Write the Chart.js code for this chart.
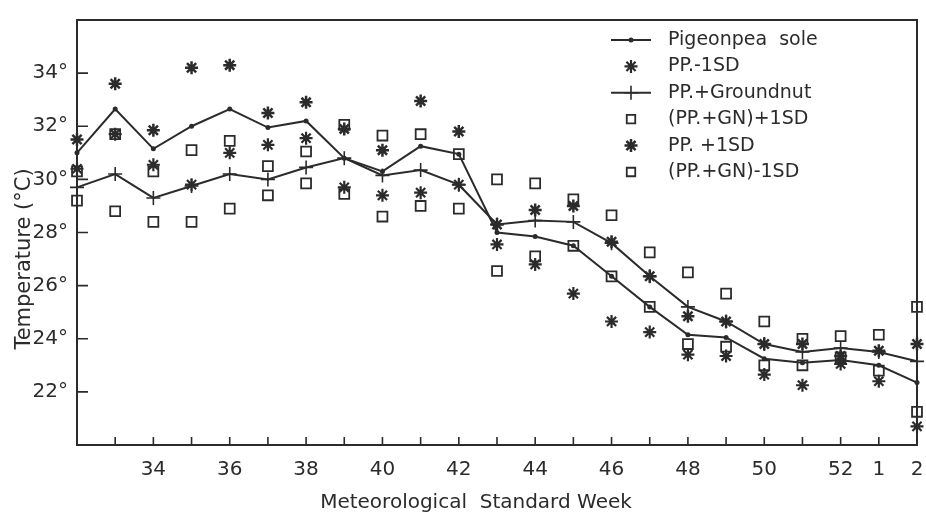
<!DOCTYPE html>
<html>
<head>
<meta charset="utf-8">
<script src="https://cdn.jsdelivr.net/npm/chart.js@4.4.1/dist/chart.umd.min.js"></script>
<style>
  html, body { margin: 0; padding: 0; background: #fff; }
  #wrap { width: 926px; height: 516px; }
</style>
</head>
<body>
<div id="wrap"><canvas id="tempChart" width="926" height="516"></canvas></div>
<script>
// meteorological standard weeks (32 .. 52, then 1, 2)
const weeks = ['32','33','34','35','36','37','38','39','40','41','42','43','44','45','46','47','48','49','50','51','52','1','2'];

// temperature, deg C
const ppSole  = [31.0, 32.65, 31.15, 32.0, 32.65, 31.95, 32.2, 30.8, 30.3, 31.25, 30.95, 28.0, 27.85, 27.5, 26.35, 25.2, 24.15, 24.05, 23.25, 23.1, 23.2, 23.0, 22.35];
const ppPlus  = [31.5, 33.6, 31.85, 34.2, 34.3, 32.5, 32.9, 31.9, 31.1, 32.95, 31.8, 28.3, 28.85, 29.0, 27.65, 26.35, 24.85, 24.65, 23.8, 23.8, 23.35, 23.55, 23.8];
const ppMinus = [30.4, 31.7, 30.55, 29.8, 31.0, 31.3, 31.55, 29.7, 29.4, 29.5, 29.8, 27.55, 26.8, 25.7, 24.65, 24.25, 23.4, 23.35, 22.65, 22.25, 23.05, 22.4, 20.7];
const ppGn    = [29.7, 30.2, 29.3, 29.75, 30.2, 30.0, 30.45, 30.8, 30.15, 30.35, 29.8, 28.3, 28.45, 28.4, 27.6, 26.35, 25.2, 24.65, 23.8, 23.5, 23.65, 23.5, 23.15];
const gnPlus  = [30.3, 31.7, 30.3, 31.1, 31.45, 30.5, 31.05, 32.05, 31.65, 31.7, 30.95, 30.0, 29.85, 29.25, 28.65, 27.25, 26.5, 25.7, 24.65, 24.0, 24.1, 24.15, 25.2];
const gnMinus = [29.2, 28.8, 28.4, 28.4, 28.9, 29.4, 29.85, 29.45, 28.6, 29.0, 28.9, 26.55, 27.1, 27.5, 26.35, 25.2, 23.8, 23.7, 23.0, 23.0, 23.3, 22.8, 21.25];

const yTicks = [22, 24, 26, 28, 30, 32, 34];

const ink = '#2b2b2b';
const fontFam = "'DejaVu Sans', sans-serif";

// top/right frame + inward tick marks
const frame = {
  id: 'frame',
  afterDraw(chart) {
    const {ctx, chartArea: a, scales} = chart;
    ctx.save();
    ctx.strokeStyle = ink;
    ctx.lineWidth = 2;
    ctx.beginPath();
    ctx.moveTo(a.left, a.top);
    ctx.lineTo(a.right, a.top);
    ctx.lineTo(a.right, a.bottom);
    ctx.stroke();
    ctx.lineWidth = 1.6;
    ctx.beginPath();
    yTicks.forEach(v => {
      const y = scales.y.getPixelForValue(v);
      ctx.moveTo(a.left, y);
      ctx.lineTo(a.left + 11, y);
    });
    weeks.forEach((w, i) => {
      if (i === 0) return;
      const x = scales.x.getPixelForValue(i);
      ctx.moveTo(x, a.bottom);
      ctx.lineTo(x, a.bottom - 8);
    });
    ctx.stroke();
    ctx.restore();
  }
};

// legend drawn inside the plot, top right
const boxLegend = {
  id: 'boxLegend',
  afterDraw(chart) {
    const {ctx, chartArea: a} = chart;
    const x0 = a.right - 306, xt = a.right - 249;
    ctx.save();
    ctx.font = '19px ' + fontFam;
    ctx.textBaseline = 'middle';
    ctx.textAlign = 'left';
    chart.data.datasets.forEach((ds, i) => {
      const y = a.top + 20 + i * 26.4;
      ctx.strokeStyle = ink;
      ctx.fillStyle = ink;
      if (ds.showLine !== false) {
        ctx.lineWidth = 2;
        ctx.beginPath();
        ctx.moveTo(x0, y);
        ctx.lineTo(x0 + 40, y);
        ctx.stroke();
      }
      ctx.lineWidth = ds.pointBorderWidth;
      ctx.fillStyle = ds.pointBackgroundColor;
      Chart.helpers.drawPoint(ctx, {
        pointStyle: ds.pointStyle,
        radius: ds.pointStyle === 'rect' ? 6 : ds.pointRadius,
        rotation: 0,
        borderWidth: ds.pointBorderWidth
      }, x0 + 20, y);
      ctx.fillStyle = ink;
      ctx.fillText(ds.label, xt, y);
    });
    ctx.restore();
  }
};

// axis titles
const axisTitles = {
  id: 'axisTitles',
  afterDraw(chart) {
    const {ctx} = chart;
    ctx.save();
    ctx.fillStyle = ink;
    ctx.font = '20px ' + fontFam;
    ctx.textAlign = 'center';
    ctx.textBaseline = 'middle';
    ctx.fillText('Meteorological  Standard Week', 476, 503);
    ctx.font = '21px ' + fontFam;
    ctx.translate(25, 259);
    ctx.rotate(-Math.PI / 2);
    ctx.fillText('Temperature (°C)', 0, 0);
    ctx.restore();
  }
};

const lineSet = (label, data, style, r, bw) => ({
  label, data,
  borderColor: ink, borderWidth: 2, tension: 0,
  pointStyle: style, pointRadius: r, pointBorderWidth: bw,
  pointBorderColor: ink, pointBackgroundColor: ink
});
const markSet = (label, data, style, r, bw, fill) => ({
  label, data, showLine: false,
  borderColor: ink,
  pointStyle: style, pointRadius: r, pointBorderWidth: bw,
  pointBorderColor: ink, pointBackgroundColor: fill
});

new Chart(document.getElementById('tempChart'), {
  type: 'line',
  data: {
    labels: weeks,
    datasets: [
      lineSet('Pigeonpea  sole', ppSole, 'circle', 2.5, 0),
      markSet('PP.-1SD', ppMinus, 'star', 6.5, 2.2, ink),
      lineSet('PP.+Groundnut', ppGn, 'cross', 7, 1.6),
      markSet('(PP.+GN)+1SD', gnPlus, 'rect', 7, 1.8, 'rgba(0,0,0,0)'),
      markSet('PP. +1SD', ppPlus, 'star', 6.5, 2.5, ink),
      markSet('(PP.+GN)-1SD', gnMinus, 'rect', 7, 1.8, 'rgba(0,0,0,0)')
    ]
  },
  options: {
    responsive: false,
    animation: false,
    devicePixelRatio: 1,
    layout: {padding: {top: 20, right: 7, left: 0, bottom: 0}},
    plugins: {legend: {display: false}, tooltip: {enabled: false}},
    scales: {
      x: {
        offset: false,
        grid: {display: false, drawTicks: false},
        border: {color: ink, width: 2},
        ticks: {
          autoSkip: false, maxRotation: 0, padding: 13,
          color: ink, font: {family: fontFam, size: 20},
          callback(v) {
            const w = this.getLabelForValue(v);
            const n = +w;
            return (n <= 2 || (n % 2 === 0 && n > 32)) ? w : '';
          }
        },
        afterFit(s) { s.height = 71; s.paddingLeft = 0; s.paddingRight = 0; }
      },
      y: {
        min: 20, max: 36,
        grid: {display: false, drawTicks: false},
        border: {color: ink, width: 2},
        ticks: {
          stepSize: 2, padding: 9,
          color: ink, font: {family: fontFam, size: 20},
          callback: v => yTicks.includes(v) ? v + '°' : ''
        },
        afterFit(s) { s.width = 77; s.paddingTop = 0; s.paddingBottom = 0; }
      }
    }
  },
  plugins: [frame, boxLegend, axisTitles]
});
</script>
</body>
</html>
